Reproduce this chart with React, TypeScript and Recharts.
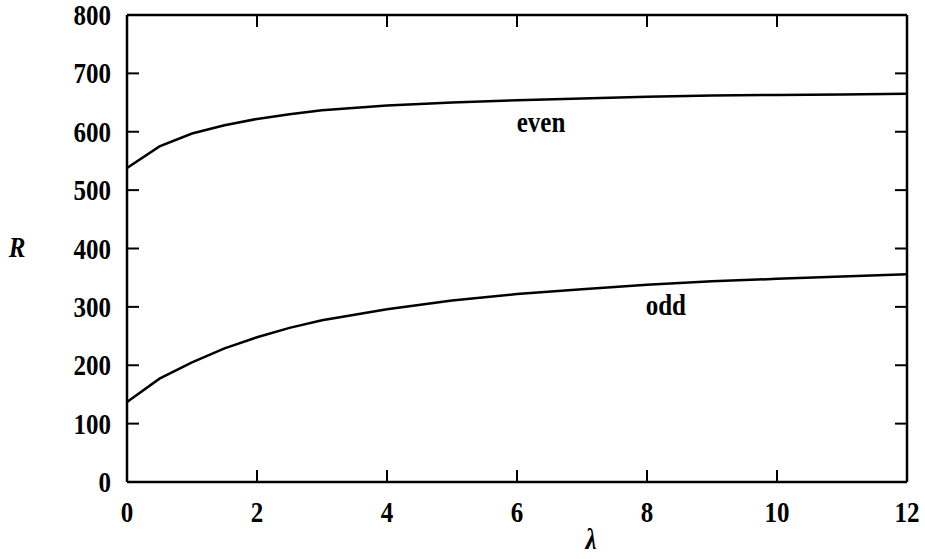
import { LineChart, Line, XAxis, YAxis, ReferenceDot } from "recharts";

const LAMBDA = [0, 0.5, 1, 1.5, 2, 2.5, 3, 4, 5, 6, 7, 8, 9, 10, 11, 12];
const EVEN = [538, 575, 597, 611, 622, 630, 637, 645, 650, 654, 657, 660, 662, 663, 664, 665];
const ODD = [137, 177, 205, 229, 248, 264, 277, 296, 311, 322, 330, 338, 344, 348, 352, 356];

const X_TICKS = [0, 2, 4, 6, 8, 10, 12];
const Y_TICKS = [0, 100, 200, 300, 400, 500, 600, 700, 800];

const data = LAMBDA.map((l, i) => ({ l, even: EVEN[i], odd: ODD[i] }));

const W = 925;
const H = 559;
const MARGIN = { top: 14, right: 17, bottom: 17, left: 0 };
const LEFT_W = 127;
const BOTTOM_H = 60;
// plot box edges, derived from margins and axis sizes
const PL = MARGIN.left + LEFT_W;
const PR = W - MARGIN.right - 1;
const PT = MARGIN.top + 1;
const PB = H - MARGIN.bottom - BOTTOM_H;

const FONT = "'Liberation Serif', 'DejaVu Serif', serif";
const TICK = 12;
const STRETCH = 1.2; // the scan's glyphs are taller than Times

function Label({ x, y, anchor = "middle", italic = false, children }: any) {
  return (
    <g transform={`translate(${x},${y}) scale(1,${STRETCH})`}>
      <text x={0} y={0} textAnchor={anchor} fontFamily={FONT} fontSize={25} fontWeight="bold" fontStyle={italic ? "italic" : "normal"} fill="#000">
        {children}
      </text>
    </g>
  );
}

function BottomTick({ x, payload }: any) {
  return (
    <g>
      <line x1={x} y1={PB} x2={x} y2={PB - TICK} stroke="#000" strokeWidth={2} />
      <Label x={x} y={PB + 40}>{payload.value}</Label>
    </g>
  );
}

function TopTick({ x }: any) {
  return <line x1={x} y1={PT} x2={x} y2={PT + TICK} stroke="#000" strokeWidth={2} />;
}

function LeftTick({ y, payload }: any) {
  return (
    <g>
      <line x1={PL} y1={y} x2={PL + TICK} y2={y} stroke="#000" strokeWidth={2} />
      <Label x={PL - 16} y={y + 10} anchor="end">{payload.value}</Label>
    </g>
  );
}

function RightTick({ y }: any) {
  return <line x1={PR} y1={y} x2={PR - TICK} y2={y} stroke="#000" strokeWidth={2} />;
}

const curveLabel = (text: string) => (props: any) => (
  <Label x={props.cx} y={props.cy + 7}>{text}</Label>
);

export default function App() {
  return (
    <div style={{ position: "absolute", left: 0, top: 0, background: "#fff" }}>
      <LineChart width={W} height={H} data={data} margin={MARGIN}>
        <XAxis
          dataKey="l"
          type="number"
          domain={[0, 12]}
          ticks={X_TICKS}
          height={BOTTOM_H}
          tickSize={0}
          tickMargin={0}
          tickLine={false}
          tick={<BottomTick />}
          axisLine={{ stroke: "#000", strokeWidth: 2.5 }}
          interval={0}
          label={{
            content: () => <Label x={591} y={549} italic>λ</Label>,
          }}
        />
        <XAxis
          xAxisId="top"
          orientation="top"
          dataKey="l"
          type="number"
          domain={[0, 12]}
          ticks={X_TICKS}
          height={1}
          tickSize={0}
          tickMargin={0}
          tickLine={false}
          tick={<TopTick />}
          axisLine={{ stroke: "#000", strokeWidth: 2.5 }}
          interval={0}
        />
        <YAxis
          type="number"
          domain={[0, 800]}
          ticks={Y_TICKS}
          width={LEFT_W}
          tickSize={0}
          tickMargin={0}
          tickLine={false}
          tick={<LeftTick />}
          axisLine={{ stroke: "#000", strokeWidth: 2.5 }}
          interval={0}
          label={{
            content: () => <Label x={17} y={257} italic>R</Label>,
          }}
        />
        <YAxis
          yAxisId="right"
          orientation="right"
          type="number"
          domain={[0, 800]}
          ticks={Y_TICKS}
          width={1}
          tickSize={0}
          tickMargin={0}
          tickLine={false}
          tick={<RightTick />}
          axisLine={{ stroke: "#000", strokeWidth: 2.5 }}
          interval={0}
        />
        <Line dataKey="even" type="linear" stroke="#000" strokeWidth={2.5} dot={false} isAnimationActive={false} />
        <Line dataKey="odd" type="linear" stroke="#000" strokeWidth={2.5} dot={false} isAnimationActive={false} />
        {/* invisible series so the top and right frame axes get drawn */}
        <Line xAxisId="top" yAxisId="right" dataKey="odd" stroke="none" dot={false} activeDot={false} isAnimationActive={false} />
        <ReferenceDot x={6.37} y={611} r={0} shape={curveLabel("even")} />
        <ReferenceDot x={8.29} y={298} r={0} shape={curveLabel("odd")} />
      </LineChart>
    </div>
  );
}
